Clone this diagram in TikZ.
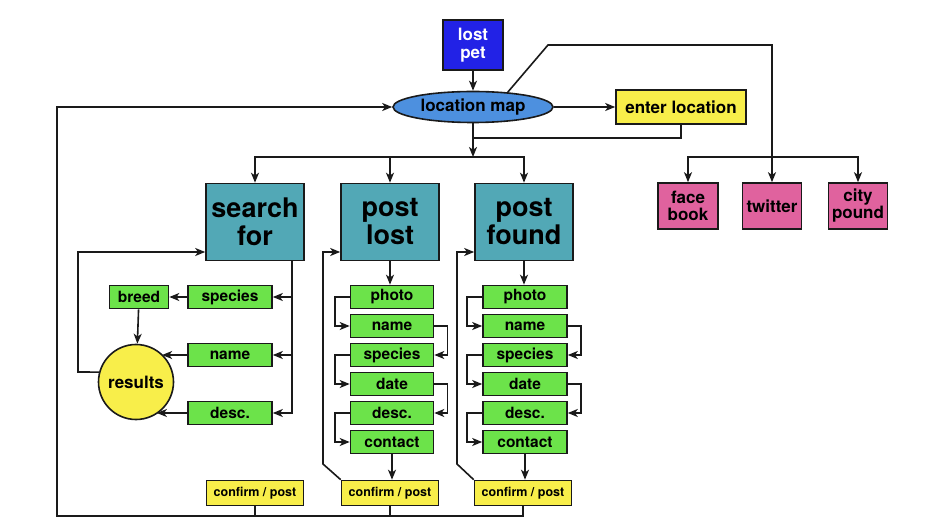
\documentclass[tikz,border=0pt]{standalone}
\usepackage{fontspec}
\setmainfont{TeX Gyre Heros}
\usetikzlibrary{arrows.meta,shapes.geometric}
\definecolor{cBlue}{HTML}{2222E6}
\definecolor{cEll}{HTML}{4D90DF}
\definecolor{cYel}{HTML}{F8EE4A}
\definecolor{cTeal}{HTML}{52A8B6}
\definecolor{cGreen}{HTML}{6CE34A}
\definecolor{cPink}{HTML}{E0629E}
\definecolor{cLine}{HTML}{1A1A1A}
\tikzset{
  base/.style={draw=cLine, line width=1.6pt, inner sep=0pt, align=center},
  bluebox/.style={base, fill=cBlue, text=white, minimum width=60pt, minimum height=50pt, font=\fontsize{17}{18}\selectfont\bfseries},
  ellbox/.style={base, ellipse, fill=cEll, minimum width=160pt, minimum height=31pt, font=\fontsize{17}{18}\selectfont\bfseries},
  yelbox/.style={base, fill=cYel, minimum width=130pt, minimum height=34pt, font=\fontsize{17}{18}\selectfont\bfseries},
  pinkbox/.style={base, fill=cPink, minimum width=60pt, minimum height=46pt, font=\fontsize{17}{17}\selectfont\bfseries},
  tealbox/.style={base, fill=cTeal, minimum width=98pt, minimum height=77pt, font=\fontsize{27}{28}\selectfont\bfseries},
  greenbox/.style={base, fill=cGreen, minimum width=84pt, minimum height=23pt, font=\fontsize{15.5}{16}\selectfont\bfseries},
  confbox/.style={base, fill=cYel, minimum width=97pt, minimum height=25pt, font=\fontsize{12.5}{14}\selectfont\bfseries},
  circbox/.style={base, circle, fill=cYel, minimum size=75pt, font=\fontsize{17}{18}\selectfont\bfseries},
  conn/.style={draw=cLine, line width=1.6pt},
  arr/.style={conn, -{Stealth[length=10pt,width=8pt,inset=2.8pt]}},
}
\begin{document}
\begin{tikzpicture}[x=1pt,y=-1pt]
\useasboundingbox[fill=white] (0,0) rectangle (945,526);
% top
\node[bluebox] (lostpet) at (473,45) {lost\\pet};
\node[ellbox] (locmap) at (473,107) {location map};
\node[yelbox] (enterloc) at (681,107) {enter location};
\node[pinkbox] (face) at (688,206) {face\\book};
\node[pinkbox, minimum width=59pt] (twitter) at (772,206) {twitter};
\node[pinkbox, minimum width=59pt] (city) at (858,206) {city\\pound};
% teal
\node[tealbox] (search) at (255,222) {search\\for};
\node[tealbox] (postlost) at (390,222) {post\\lost};
\node[tealbox] (postfound) at (524,222) {post\\found};
% search column
\node[greenbox] (species) at (230,297) {species};
\node[greenbox, minimum width=59pt] (breed) at (139,297) {breed};
\node[greenbox] (sname) at (230,355) {name};
\node[greenbox] (sdesc) at (230,413) {desc.};
\node[circbox] (results) at (136,382) {results};
% post lost column
\node[greenbox, minimum width=83pt] (la) at (392,297) {photo};
\node[greenbox, minimum width=83pt] (lb) at (392,326) {name};
\node[greenbox, minimum width=83pt] (lc) at (392,355) {species};
\node[greenbox, minimum width=83pt] (ld) at (392,384) {date};
\node[greenbox, minimum width=83pt] (le) at (392,413) {desc.};
\node[greenbox, minimum width=83pt] (lf) at (392,442) {contact};
% post found column
\node[greenbox] (fa) at (525,297) {photo};
\node[greenbox] (fb) at (525,326) {name};
\node[greenbox] (fc) at (525,355) {species};
\node[greenbox] (fd) at (525,384) {date};
\node[greenbox] (fe) at (525,413) {desc.};
\node[greenbox] (ff) at (525,442) {contact};
% confirm
\node[confbox] (c1) at (255,493) {confirm / post};
\node[confbox] (c2) at (390,493) {confirm / post};
\node[confbox] (c3) at (523,493) {confirm / post};
% coordinates
\coordinate (bus1) at (473,157);
\coordinate (j1) at (473,138);
\coordinate (bend1) at (548,45);
\coordinate (bend2) at (772,45);
\coordinate (bus2) at (772,157);
\coordinate (sv) at (292,261);
\coordinate (rl) at (78,372);
\coordinate (sl) at (78,252);
\coordinate (pl) at (323,464);
\coordinate (plt) at (323,252);
\coordinate (pf) at (457,464);
\coordinate (pft) at (457,252);
\coordinate (bl) at (57,516);
% top connectors
\draw[arr] (lostpet) -- (locmap);
\draw[arr] (locmap) -- (enterloc);
\draw[conn] (enterloc.south) |- (j1);
\draw[conn] (locmap.23) -- (bend1) -- (bend2) -- (bus2);
\draw[arr] (bus2) -- (twitter.north);
\draw[arr] (bus2) -| (face.north);
\draw[arr] (bus2) -| (city.north);
\draw[arr] (locmap.south) -- (bus1);
\draw[arr] (bus1) -| (search.north);
\draw[arr] (bus1) -| (postfound.north);
\draw[arr] (postlost.north |- bus1) -- (postlost.north);
% search column
\draw[arr] (sv) |- (sdesc.east);
\draw[arr] (sv |- species.east) -- (species.east);
\draw[arr] (sv |- sname.east) -- (sname.east);
\draw[arr] (species) -- (breed);
\draw[arr] (breed) -- (results);
\draw[arr] (sname.west) -- (sname.west -| results.47);
\draw[arr] (sdesc.west) -- (sdesc.west -| results.-57);
\draw[arr] (results.165) -- (rl) -- (sl) -- (sl -| search.west);
% post lost column
\draw[arr] (postlost.south) -- (postlost.south |- la.north);
\draw[arr] (la.west) -- ++(-15,0) |- (lb.west);
\draw[arr] (lb.east) -- ++(13,0) |- (lc.east);
\draw[arr] (lc.west) -- ++(-15,0) |- (ld.west);
\draw[arr] (ld.east) -- ++(13,0) |- (le.east);
\draw[arr] (le.west) -- ++(-15,0) |- (lf.west);
\draw[arr] (lf.south) -- (lf.south |- c2.north);
\draw[arr] (c2.north west) -- (pl) -- (plt) -- (plt -| postlost.west);
% post found column
\draw[arr] (postfound.south) -- (postfound.south |- fa.north);
\draw[arr] (fa.west) -- ++(-15,0) |- (fb.west);
\draw[arr] (fb.east) -- ++(13,0) |- (fc.east);
\draw[arr] (fc.west) -- ++(-15,0) |- (fd.west);
\draw[arr] (fd.east) -- ++(13,0) |- (fe.east);
\draw[arr] (fe.west) -- ++(-15,0) |- (ff.west);
\draw[arr] (ff.south) -- (ff.south |- c3.north);
\draw[arr] (c3.north west) -- (pf) -- (pft) -- (pft -| postfound.west);
% bottom bus
\draw[conn] (c1.south) -- (c1.south |- bl);
\draw[conn] (c2.south) -- (c2.south |- bl);
\draw[arr] (c3.south) |- (bl) |- (locmap.west);
\end{tikzpicture}
\end{document}
